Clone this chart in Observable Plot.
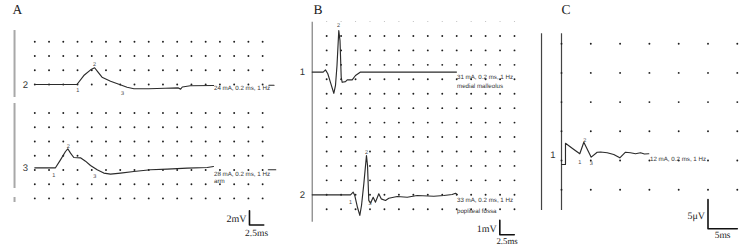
<!DOCTYPE html>
<html><head><meta charset="utf-8">
<script src="https://cdn.jsdelivr.net/npm/d3@7"></script>
<script src="https://cdn.jsdelivr.net/npm/@observablehq/plot@0.6"></script>
<style>
body{margin:0;background:#fff;}
#fig{position:relative;width:750px;height:247px;overflow:hidden;background:#fff;}
.panel{position:absolute;top:0;}
svg text{text-rendering:geometricPrecision;}
</style></head><body><div id="fig"></div>
<script>
// ================= DATA =================
// ---- Panel A (x: ms, y: mV)
const aGridMs = [0,2.5,5,7.5,10,12.5,15,17.5,20,22.5,25,27.5,30,32.5,35,37.5,40];
const aGridMV = [6,4,2,0,-4,-6,-8,-10,-12,-14,-16];
const aChannels = ["2","3"];
const aOffsetsMV = [0,-11.7];
const aTrace2Ms = [0,7.4,8.6,9.8,10.5,11.1,11.8,13.3,15.0,16.2,17.4,20.0,22.9,25.2,25.6,25.9,27.3,31.4];
const aTrace2MV = [0,0,1.26,2.06,2.35,1.73,1.03,0.46,-0.04,-0.38,-0.6,-0.6,-0.53,-0.48,-0.65,-0.35,-0.17,-0.14];
const aTrace3Ms = [0,3.63,4.51,5.39,5.79,6.27,6.85,8.02,8.90,9.78,10.95,12.11,13.29,15.05,17.38,20.31,23.24,26.76,30.27,31.37];
const aTrace3MV = [0,0,1.12,2.29,2.67,2.06,1.45,1.40,0.93,0.32,-0.28,-0.74,-0.88,-0.74,-0.52,-0.28,-0.18,-0.04,0.04,0.18];
const aTail2Ms = [41.1,42.0], aTail2MV = [-0.1,-0.1];
const aTail3Ms = [41.0,42.3], aTail3MV = [-0.28,-0.28];
const aPeak2Labels = ["1","2","3"], aPeak2Ms = [7.55,10.48,15.4], aPeak2MV = [-0.84,2.81,-1.17];
const aPeak3Labels = ["1","2","3"], aPeak3Ms = [3.34,5.86,10.53], aPeak3MV = [-0.98,3.09,-1.22];
const aNotes2 = ["24 mA, 0.2 ms, 1 Hz"], aNotes2MV = [-0.56];
const aNotes3 = ["28 mA, 0.2 ms, 1 Hz","arm"], aNotes3MV = [-0.84,-1.83];
const aNoteMs = 31.45;
const aBarMs = -3.56;
const aBarFromMV = [7.58,-2.67,-15.87], aBarToMV = [-1.83,-14.61,-16.57];
const aScale = {ms:37.69, mV:-19.73, lenMs:2.5, lenMV:2, labelX:"2.5ms", labelY:"2mV"};

// ---- Panel B (x: ms, y: mV)
const bGridMs = [2.5,5,7.5,10,12.5,15,17.5,20,22.5,25,27.5,30,32.5,35];
const bGridMV = [11,10,9,8,7,6,5,4,3,2,1,0,-1];
const bFaintRowMV = [12];
const bChannels = ["1","2"];
const bOffsetsMV = [8.5,0];
const bTrace1Ms = [0,1.90,2.30,2.70,3.17,3.74,4.03,4.29,4.60,4.81,5.02,5.19,5.76,6.06,6.92,7.49,8.36,24.96];
const bTrace1MV = [0,0,0.15,-0.12,-0.73,-1.47,-0.93,0.45,2.87,2.18,-0.36,-0.71,-0.66,-0.54,-0.54,-0.24,0,0];
const bTrace2Ms = [0,6.63,7.09,7.37,7.84,8.24,8.53,8.93,9.39,9.57,9.79,10.09,10.55,10.95,11.52,11.94,12.68,13.25,14.71,16.44,18.17,21.04,22.77,24.22,24.79,25.09];
const bTrace2MV = [0,0,0.18,-0.05,-0.88,-1.43,-0.74,0.76,2.72,2.03,-0.39,-0.58,-0.17,-0.51,0.07,-0.28,-0.39,-0.24,-0.12,-0.17,-0.05,-0.10,-0.05,0.02,0.11,0.02];
const bPeak1Labels = ["2"], bPeak1Ms = [4.55], bPeak1MV = [3.25];
const bPeak2Labels = ["1","2","3"], bPeak2Ms = [6.63,9.39,10.0], bPeak2MV = [-0.51,2.95,-0.55];
const bNotes1 = ["31 mA, 0.2 ms, 1 Hz","medial malleolus"], bNotes1MV = [-0.36,-1.0];
const bNotes2 = ["33 mA, 0.2 ms, 1 Hz","popliteal fossa"], bNotes2MV = [-0.39,-1.12];
const bNoteMs = 25.05;
const bAxisFromMV = 11.95, bAxisToMV = -1.9;
const bScale = {ms:32.46, mV:-2.77, lenMs:2.5, lenMV:1, labelX:"2.5ms", labelY:"1mV"};

// ---- Panel C (x: ms, y: µV)
const cGridMs = [0,5,10,15,20,25,30];
const cGridUV = [20,15,10,5,0,-5];
const cChannels = ["1"];
const cTraceMs = [0,0.68,0.68,1.88,3.12,3.81,5.07,6.09,6.66,7.80,8.92,9.95,10.92,11.77,12.63,13.48,14.16,14.90];
const cTraceUV = [-0.68,-0.68,2.96,2.05,1.15,3.13,0.57,1.42,1.46,1.32,1.03,0.46,1.42,1.32,1.15,1.32,1.11,1.15];
const cPeakLabels = ["1","2","3"], cPeakMs = [3.12,3.98,5.07], cPeakUV = [-0.29,3.51,-0.51];
const cNotes = ["12 mA, 0.2 ms, 1 Hz"], cNotesUV = [0.26];
const cNoteMs = 15.1;
const cLineMs = [-3.41,0];
const cLineFromUV = 21.7, cLineToUV = -8.56;
const cScale = {ms:25, mV:-11.69, lenMs:5, lenMV:5, labelX:"5ms", labelY:"5μV"};

// ================= HELPERS =================
const H = 247;
const INK = "#2b2b2b";
const NOTE_FONT = "'Liberation Sans Narrow','Liberation Sans',Arial,sans-serif";
const SANS = "'Liberation Sans',Arial,sans-serif";
const SERIF = "'Liberation Serif','Times New Roman',serif";

const pts = (xs, ys, off = 0) => xs.map((x, i) => ({x, y: ys[i] + off}));
const labelled = (labels, xs, ys, off = 0) => labels.map((t, i) => ({t, x: xs[i], y: ys[i] + off}));

function gridDots(xs, ys, opts = {}) {
  return Plot.dot(d3.cross(xs, ys), {x: d => d[0], y: d => d[1], r: opts.r ?? 0.95, fill: opts.fill ?? "#1e1e1e", stroke: null});
}
function traceLine(data) {
  return Plot.line(data, {x: "x", y: "y", stroke: INK, strokeWidth: 1.15, strokeLinejoin: "round", strokeLinecap: "round"});
}
function smallLabels(data, size = 5.5) {
  return Plot.text(data, {x: "x", y: "y", text: "t", fontSize: size, fontFamily: SANS, fill: "#444"});
}
function notes(texts, x, ys, off) {
  return Plot.text(texts.map((t, i) => ({t, x, y: ys[i] + off})),
    {x: "x", y: "y", text: "t", textAnchor: "start", fontSize: 6.2, fontFamily: NOTE_FONT, fill: "#333"});
}
function channelLabels(names, x, offs) {
  return Plot.text(names.map((t, i) => ({t, x, y: offs[i]})),
    {x: "x", y: "y", text: "t", fontSize: 9.5, fontFamily: SANS, fill: "#333"});
}
function scaleBar(s, labelGap, labelSize = 9.5) {
  const bar = [{x: s.ms, y: s.mV + s.lenMV}, {x: s.ms, y: s.mV}, {x: s.ms + s.lenMs, y: s.mV}];
  return [
    Plot.line(bar, {x: "x", y: "y", stroke: "#111", strokeWidth: 1.6}),
    Plot.text([{t: s.labelY, x: s.ms, y: s.mV + s.lenMV * 0.45}],
      {x: "x", y: "y", text: "t", textAnchor: "end", dx: -3, fontSize: 10, fontFamily: SERIF, fill: "#222"}),
    Plot.text([{t: s.labelX, x: s.ms + s.lenMs / 2, y: s.mV}],
      {x: "x", y: "y", text: "t", dy: labelGap, fontSize: labelSize, fontFamily: SERIF, fill: "#222"})
  ];
}
function panelLetter(letter, dx) {
  return Plot.text([letter], {frameAnchor: "top-left", text: d => d, textAnchor: "start", lineAnchor: "top",
    dx, dy: 4, fontSize: 13.5, fontFamily: SERIF, fill: "#222"});
}
function makePanel(left, width, x0px, pxPerX, y0px, pxPerY, marks) {
  const plot = Plot.plot({
    width, height: H, margin: 0,
    x: {domain: [-x0px / pxPerX, (width - x0px) / pxPerX], axis: null},
    y: {domain: [-(H - y0px) / pxPerY, y0px / pxPerY], axis: null},
    style: {background: "transparent", overflow: "visible"},
    marks
  });
  const div = document.createElement("div");
  div.className = "panel";
  div.style.left = left + "px";
  div.appendChild(plot);
  document.getElementById("fig").appendChild(div);
}

// ================= PANEL A =================
makePanel(0, 295, 34.3, 5.696, 84, 7.12, [
  Plot.ruleX(aBarFromMV.map((f, i) => ({x: aBarMs, y1: f, y2: aBarToMV[i]})), {x: "x", y1: "y1", y2: "y2", stroke: "#a8a8a8", strokeWidth: 2}),
  gridDots(aGridMs, aGridMV),
  traceLine(pts(aTrace2Ms, aTrace2MV, aOffsetsMV[0])),
  traceLine(pts(aTrace3Ms, aTrace3MV, aOffsetsMV[1])),
  traceLine(pts(aTail2Ms, aTail2MV, aOffsetsMV[0])),
  traceLine(pts(aTail3Ms, aTail3MV, aOffsetsMV[1])),
  smallLabels(labelled(aPeak2Labels, aPeak2Ms, aPeak2MV, aOffsetsMV[0])),
  smallLabels(labelled(aPeak3Labels, aPeak3Ms, aPeak3MV, aOffsetsMV[1])),
  notes(aNotes2, aNoteMs, aNotes2MV, aOffsetsMV[0]),
  notes(aNotes3, aNoteMs, aNotes3MV, aOffsetsMV[1]),
  channelLabels(aChannels, -1.63, aOffsetsMV),
  ...scaleBar(aScale, 8),
  panelLetter("A", 12)
]);

// ================= PANEL B =================
makePanel(295, 235, 16.7, 5.78, 194.3, 14.44, [
  Plot.ruleX([{x: 0, y1: bAxisFromMV, y2: bAxisToMV}], {x: "x", y1: "y1", y2: "y2", stroke: "#666", strokeWidth: 1}),
  gridDots(bGridMs, bFaintRowMV, {r: 0.6, fill: "#bbb"}),
  gridDots(bGridMs, bGridMV),
  traceLine(pts(bTrace1Ms, bTrace1MV, bOffsetsMV[0])),
  traceLine(pts(bTrace2Ms, bTrace2MV, bOffsetsMV[1])),
  smallLabels(labelled(bPeak1Labels, bPeak1Ms, bPeak1MV, bOffsetsMV[0])),
  smallLabels(labelled(bPeak2Labels, bPeak2Ms, bPeak2MV, bOffsetsMV[1])),
  notes(bNotes1, bNoteMs, bNotes1MV, bOffsetsMV[0]),
  notes(bNotes2, bNoteMs, bNotes2MV, bOffsetsMV[1]),
  channelLabels(bChannels, -1.68, bOffsetsMV),
  ...scaleBar(bScale, 6.5, 8.8),
  panelLetter("B", 18)
]);

// ================= PANEL C =================
makePanel(530, 220, 31, 5.86, 160, 5.84, [
  Plot.ruleX(cLineMs.map(x => ({x, y1: cLineFromUV, y2: cLineToUV})), {x: "x", y1: "y1", y2: "y2", stroke: "#444", strokeWidth: 1.2}),
  gridDots(cGridMs, cGridUV),
  traceLine(pts(cTraceMs, cTraceUV)),
  smallLabels(labelled(cPeakLabels, cPeakMs, cPeakUV)),
  notes(cNotes, cNoteMs, cNotesUV, 0),
  channelLabels(cChannels, -1.48, [1.03]),
  ...scaleBar(cScale, 6),
  panelLetter("C", 31)
]);
</script></body></html>
